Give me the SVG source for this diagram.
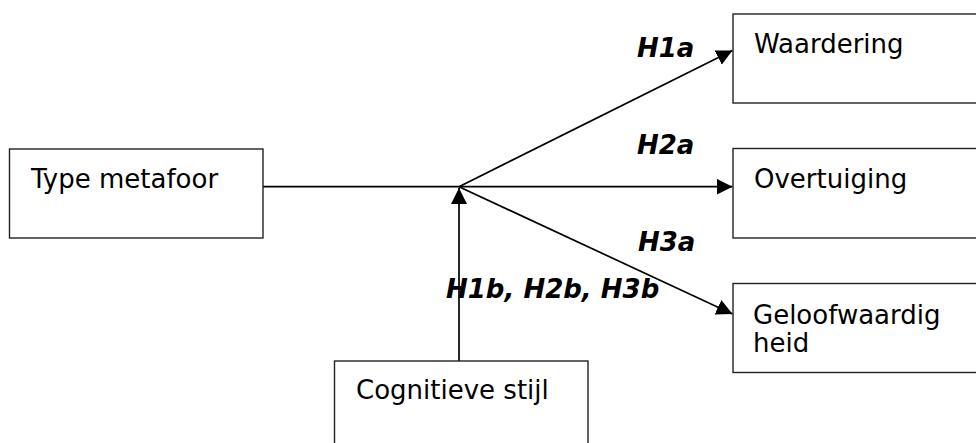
<svg xmlns="http://www.w3.org/2000/svg" width="976" height="443" viewBox="0 0 976 443">
  <style>
    .box { fill: #ffffff; stroke: #222222; stroke-width: 1.4; }
    .lbl { font-family: "DejaVu Sans", Verdana, sans-serif; font-size: 26px; fill: #000000; }
    .hyp { font-family: "DejaVu Sans", Verdana, sans-serif; font-size: 26px; font-weight: bold; font-style: italic; fill: #000000; }
    .edge { fill: none; stroke: #000000; stroke-width: 1.7; }
  </style>
  <defs>
    <marker id="arrow" markerUnits="userSpaceOnUse" markerWidth="18" markerHeight="18" refX="16" refY="8" orient="auto">
      <path d="M0,0 L16,8 L0,16 z" fill="#000000"/>
    </marker>
  </defs>
  <rect width="976" height="443" fill="#ffffff"/>

  <g id="connectors">
    <line class="edge" x1="263" y1="186.7" x2="459" y2="186.7"/>
    <line class="edge" x1="459" y1="186.7" x2="732.5" y2="50.5" marker-end="url(#arrow)"/>
    <line class="edge" x1="459" y1="186.7" x2="732.5" y2="186.7" marker-end="url(#arrow)"/>
    <line class="edge" x1="459" y1="186.7" x2="732.5" y2="314" marker-end="url(#arrow)"/>
    <line class="edge" x1="459" y1="361" x2="459" y2="188" marker-end="url(#arrow)"/>
  </g>

  <g id="type-metafoor">
    <rect class="box" x="9.5" y="149" width="253.5" height="89"/>
    <text class="lbl" x="31" y="188">Type metafoor</text>
  </g>

  <g id="waardering">
    <rect class="box" x="733" y="14" width="260" height="89"/>
    <text class="lbl" x="754" y="53">Waardering</text>
  </g>

  <g id="overtuiging">
    <rect class="box" x="733" y="148.5" width="260" height="89.5"/>
    <text class="lbl" x="754" y="188">Overtuiging</text>
  </g>

  <g id="geloofwaardigheid">
    <rect class="box" x="733" y="283.5" width="260" height="89"/>
    <text class="lbl" x="753" y="323.5">Geloofwaardig</text>
    <text class="lbl" x="753" y="351.5">heid</text>
  </g>

  <g id="cognitieve-stijl">
    <rect class="box" x="334.5" y="361" width="253.5" height="100"/>
    <text class="lbl" x="356" y="398.5">Cognitieve stijl</text>
  </g>

  <g id="labels">
    <text class="hyp" x="637" y="56.7">H1a</text>
    <text class="hyp" x="637" y="154">H2a</text>
    <text class="hyp" x="638" y="251">H3a</text>
    <text class="hyp" x="446" y="298.3">H1b, H2b, H3b</text>
  </g>
</svg>
